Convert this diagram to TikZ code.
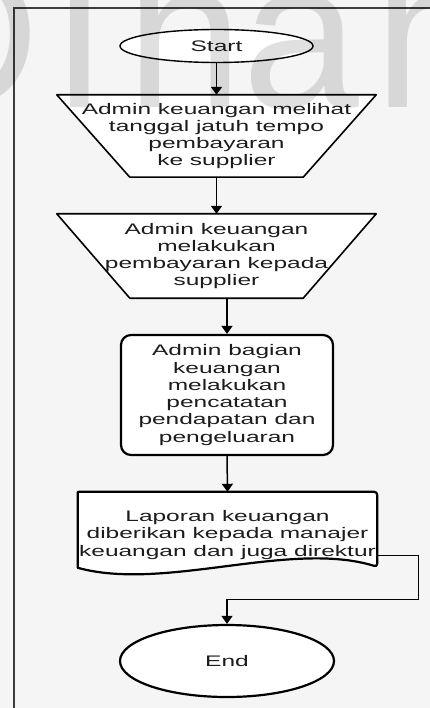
\documentclass[tikz,border=0pt]{standalone}
\usepackage{fontspec}
\newfontfamily\flowfont{Liberation Sans}[FakeStretch=1.6]
\newfontfamily\markfont{Liberation Sans}
\usetikzlibrary{arrows.meta,calc,shapes.geometric}
\pgfdeclarelayer{back}
\pgfdeclarelayer{shapes}
\pgfdeclarelayer{front}
\pgfsetlayers{back,shapes,main,front}
\definecolor{pagebg}{RGB}{245,245,245}
\definecolor{ink}{RGB}{28,28,28}
\definecolor{framecol}{RGB}{60,60,60}
\tikzset{
  txt/.style={font=\flowfont\fontsize{15.3}{17.3}\selectfont, align=center, text=ink, inner sep=0pt},
  blank/.style={txt, rectangle},
  terminal/.style={txt, ellipse, draw=black, fill=white, inner sep=0pt},
  procbox/.style={txt, rectangle, draw=black, fill=white, rounded corners=10pt, line width=2.2pt},
  outline/.style={draw=black, fill=white, line join=round},
  flow/.style={draw=black, line width=1.5pt, -{Triangle[width=11pt,length=8pt]}},
  wmletter/.style={font=\markfont\fontsize{210}{210}\selectfont, text=black, text opacity=0.12, inner sep=0pt, anchor=base west}
}
\begin{document}
\begin{tikzpicture}[x=1pt,y=-1pt]
\useasboundingbox (0,0) rectangle (430,708);
\begin{pgfonlayer}{back}
  \fill[pagebg] (0,0) rectangle (430,708);
  \draw[framecol, line width=1.6pt] (430,8) -- (14,8) -- (14,708);
\end{pgfonlayer}

% start / end terminals
\node[terminal, line width=1.4pt, minimum width=193pt, minimum height=33pt] (start) at (216.5,46) {Start};
\node[terminal, line width=2.2pt, minimum width=214pt, minimum height=72pt] (finish) at (227,661) {End};

% manual operations (inverted trapezoids)
\node[blank, minimum width=319pt, minimum height=82pt] (t1) at (216.5,136)
  {Admin keuangan melihat\\tanggal jatuh tempo\\pembayaran\\ke supplier};
\node[blank, minimum width=319pt, minimum height=84pt] (t2) at (216.5,256)
  {Admin keuangan\\melakukan\\pembayaran kepada\\supplier};

% process
\node[procbox, minimum width=212pt, minimum height=120pt] (proc) at (227,395)
  {Admin bagian\\keuangan\\melakukan\\pencatatan\\pendapatan dan\\pengeluaran};

% document
\node[blank, minimum width=299pt, minimum height=86pt] (doc) at (227.5,535)
  {Laporan keuangan\\diberikan kepada manajer\\keuangan dan juga direktur};

\begin{pgfonlayer}{shapes}
  \foreach \t in {t1,t2}{
    \draw[outline, line width=1.6pt] (\t.north west) -- (\t.north east)
      -- ($(\t.south east)+(-73,0)$) -- ($(\t.south west)+(73,0)$) -- cycle;
  }
  \draw[outline, line width=2.2pt, rounded corners=3pt] (doc.north west) -- (doc.north east)
    -- ($(doc.north east)+(0,75)$)
    [sharp corners] .. controls ($(doc.north east)+(-87,48)$) and ($(doc.north west)+(87,100)$) .. ($(doc.north west)+(0,76)$)
    -- cycle;
\end{pgfonlayer}

% connectors
\draw[flow] (start.south) -- (t1.north);
\draw[flow] (t1.south) -- (t2.north);
\draw[flow] (t2.south -| proc.north) -- (proc.north);
\draw[flow] (proc.south) -- (doc.north);
\coordinate (docout) at ($(doc.north east)+(0,64)$);
\draw[flow, line width=1.1pt] (docout) -- ++(41,0) |- ([yshift=24pt]finish.north) -- (finish.north);

% faint watermark lettering across the top
\begin{pgfonlayer}{front}
  \begin{scope}
    \clip (0,0) rectangle (430,708);
    \node[wmletter] (wmD) at (-112,108) {D};
    \node[wmletter] (wmi) at (56,108) {i};
    \node[wmletter] (wmn) at (126,108) {n};
    \node[wmletter] (wma) at (242,108) {a};
    \node[wmletter] (wmm) at (374,108) {m};
  \end{scope}
\end{pgfonlayer}
\end{tikzpicture}
\end{document}
